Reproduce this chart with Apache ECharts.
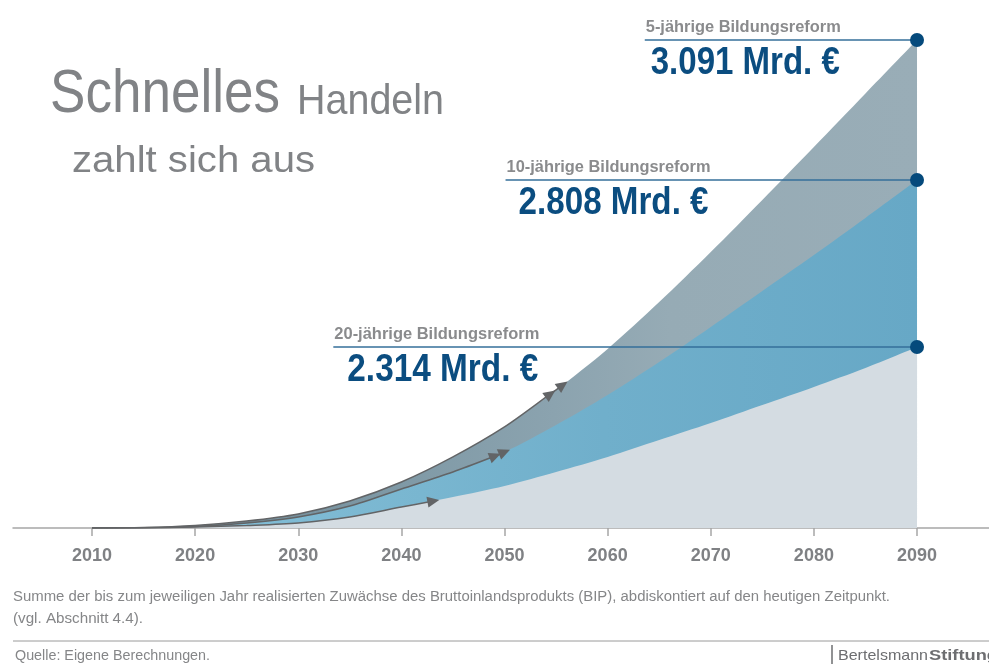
<!DOCTYPE html>
<html>
<head>
<meta charset="utf-8">
<script src="https://cdn.jsdelivr.net/npm/echarts@6/dist/echarts.min.js"></script>
<style>
  html, body { margin: 0; padding: 0; background: #fff; }
  #main { width: 989px; height: 664px; }
</style>
</head>
<body>
<div id="main"></div>
<script>
// Jahre der Stützpunkte
var years = [2010, 2015, 2020, 2025, 2030, 2035, 2040, 2045, 2050, 2055, 2060, 2065, 2070, 2075, 2080, 2085, 2090];
var tickYears = [2010, 2020, 2030, 2040, 2050, 2060, 2070, 2080, 2090];
// Kurvenhöhen (Maßstab: 5-jährige Reform 2090 = 3091)
var reform5 = [0, 3, 16, 44, 89, 171, 291, 450, 640, 874, 1134, 1431, 1748, 2078, 2413, 2752, 3091];
var reform10 = [0, 2, 10, 32, 70, 139, 247, 355, 481, 652, 842, 1051, 1273, 1501, 1729, 1964, 2204];
var reform20 = [0, 2, 6, 16, 32, 70, 133, 196, 266, 355, 450, 557, 665, 779, 893, 1013, 1146];
// Pfeilspitzen auf den Kurven
var arrow5 = [[2054.45, 849], [2055.65, 906]];
var arrow10 = [[2049.1, 456], [2050.0, 481]];
var arrow20 = [[2043.1, 171]];
var arrowFrom = [2050, 2045, 2040];   // letzter Stützpunkt vor den Pfeilen
var reformNames = ['5-jährige Bildungsreform', '10-jährige Bildungsreform', '20-jährige Bildungsreform'];
var reformTotals = ['3.091 Mrd. €', '2.808 Mrd. €', '2.314 Mrd. €'];
var labelStartYears = [2063.6, 2050.1, 2033.4];

var chart = echarts.init(document.getElementById('main'));

function pairs(vals) {
  return years.map(function (y, i) { return [y, vals[i]]; });
}

var curves = [reform5, reform10, reform20];
var arrows = [arrow5, arrow10, arrow20];

function arrowData(vals, arr, upto) {
  var d = [];
  for (var i = 0; i < years.length; i++) {
    if (years[i] <= upto) d.push({ value: [years[i], vals[i]], symbol: 'none' });
  }
  arr.forEach(function (a) { d.push({ value: a, symbol: 'triangle' }); });
  return d;
}

var ends = curves.map(function (c) { return c[c.length - 1]; });
var SM = 0.3;

function arrowSeries(id, k) {
  return {
    id: id, type: 'line', data: arrowData(curves[k], arrows[k], arrowFrom[k]), smooth: SM,
    symbol: 'triangle', symbolSize: [11, 12], showSymbol: true, silent: true,
    lineStyle: { color: '#626466', width: 1.5 }, itemStyle: { color: '#626466' }
  };
}

var option = {
  animation: false,
  grid: { left: 13, right: 0, top: 40, bottom: 136 },
  xAxis: {
    type: 'value',
    min: 2002.34,
    max: 2096.98,
    axisLine: { lineStyle: { color: '#a7a7a7', width: 1.5 } },
    axisTick: { customValues: tickYears, length: 8, lineStyle: { color: '#a7a7a7', width: 1.5 } },
    axisLabel: {
      customValues: tickYears,
      margin: 19,
      color: '#7f8184',
      fontFamily: 'Liberation Sans',
      fontWeight: 'bold',
      fontSize: 18,
      formatter: function (v) { return String(v); }
    },
    splitLine: { show: false }
  },
  yAxis: { type: 'value', min: 0, max: 3091, show: false },
  series: [
    {
      id: 'a5', type: 'line', data: pairs(reform5), smooth: SM,
      symbol: 'none', lineStyle: { width: 0 }, silent: true,
      areaStyle: { opacity: 1, color: new echarts.graphic.LinearGradient(0, 0, 1, 0, [
        { offset: 0, color: '#6d8794' }, { offset: 0.31, color: '#7b96a3' },
        { offset: 0.56, color: '#8ba3af' }, { offset: 0.7, color: '#96abb5' }, { offset: 1, color: '#99adb7' }]) }
    },
    {
      id: 'a10', type: 'line', data: pairs(reform10), smooth: SM,
      symbol: 'none', lineStyle: { width: 0 }, silent: true,
      areaStyle: { opacity: 1, color: new echarts.graphic.LinearGradient(0, 0, 1, 0, [
        { offset: 0, color: '#88c2da' }, { offset: 0.4, color: '#79b6d0' },
        { offset: 0.62, color: '#70afcb' }, { offset: 1, color: '#67a8c6' }]) }
    },
    {
      id: 'a20', type: 'line', data: pairs(reform20), smooth: SM,
      symbol: 'none', lineStyle: { width: 0 }, silent: true,
      areaStyle: { opacity: 1, color: '#d4dce2' }
    },
    arrowSeries('l5', 0),
    arrowSeries('l10', 1),
    arrowSeries('l20', 2),
    {
      id: 'ends', type: 'scatter', silent: true, z: 5,
      data: ends.map(function (v) { return [2090, v]; }),
      symbol: 'circle', symbolSize: 14, itemStyle: { color: '#054a7c', opacity: 1 },
      markLine: {
        silent: true, symbol: 'none', z: 4,
        label: { show: false },
        lineStyle: { color: '#356f9a', width: 1.5, type: 'solid', opacity: 1 },
        data: ends.map(function (v, i) {
          return [{ coord: [labelStartYears[i], v] }, { coord: [2090, v] }];
        })
      }
    }
  ]
};

chart.setOption(option);

// Pfeilrichtung aus den Pixelkoordinaten bestimmen
function px(p) { return chart.convertToPixel({ gridIndex: 0 }, p); }
var seriesUpd = [];
['l5', 'l10', 'l20'].forEach(function (id, k) {
  var d = arrowData(curves[k], arrows[k], arrowFrom[k]);
  var n = d.length, m = arrows[k].length;
  for (var j = n - m; j < n; j++) {
    var a = px(d[j - 1].value);
    var b = px(j + 1 < n ? d[j + 1].value : d[j].value);
    var ang = Math.atan2(-(b[1] - a[1]), b[0] - a[0]) * 180 / Math.PI;
    d[j].symbolRotate = ang - 90;
  }
  seriesUpd.push({ id: id, data: d });
});

// Texte auf Zielbreite bringen (Originalschrift ist schmal)
var ctx = document.createElement('canvas').getContext('2d');
function txt(str, weight, size, left, baseline, width, fill) {
  var font = weight + ' ' + size + 'px "Liberation Sans", Arial, sans-serif';
  ctx.font = font;
  var w = ctx.measureText(str).width;
  return {
    type: 'text', x: left, y: baseline - 0.83 * size, scaleX: width ? width / w : 1, silent: true,
    style: { text: str, font: font, fill: fill, align: 'left', verticalAlign: 'top' }
  };
}

var grey = '#818386';
var capGrey = '#858688';
var graphics = [
  txt('Schnelles', 'normal', 61, 50, 115, 230, grey),
  txt('Handeln', 'normal', 42, 297, 116, 147, grey),
  txt('zahlt sich aus', 'normal', 37, 72, 174, 243, grey),
  txt('Summe der bis zum jeweiligen Jahr realisierten Zuwächse des Bruttoinlandsprodukts (BIP), abdiskontiert auf den heutigen Zeitpunkt.', 'normal', 15.5, 13, 602, 877, capGrey),
  txt('(vgl. Abschnitt 4.4).', 'normal', 15.5, 13, 624, 130, capGrey),
  { type: 'line', silent: true, shape: { x1: 13, y1: 641, x2: 989, y2: 641 }, style: { stroke: '#9a9a9a', lineWidth: 1 } },
  txt('Quelle: Eigene Berechnungen.', 'normal', 15.5, 15, 661, 195, capGrey),
  { type: 'line', silent: true, shape: { x1: 832, y1: 645, x2: 832, y2: 664 }, style: { stroke: '#6d6e71', lineWidth: 1.5 } },
  txt('Bertelsmann', 'normal', 14.5, 838, 661, 90, '#6d6e71'),
  txt('Stiftung', 'bold', 14.5, 929, 661, 69, '#6d6e71')
];

var labelWidths = [195, 204, 205];
var valueLefts = [6, 13, 14];
var valueWidths = [189, 190, 191];
ends.forEach(function (v, i) {
  var p = px([labelStartYears[i], v]);
  graphics.push(txt(reformNames[i], 'bold', 17, p[0] + 1, p[1] - 7, labelWidths[i], '#8a8b8d'));
  graphics.push(txt(reformTotals[i], 'bold', 39, p[0] + valueLefts[i], p[1] + 36.5, valueWidths[i], '#0b4d80'));
});

chart.setOption({ series: seriesUpd, graphic: graphics });
</script>
</body>
</html>
